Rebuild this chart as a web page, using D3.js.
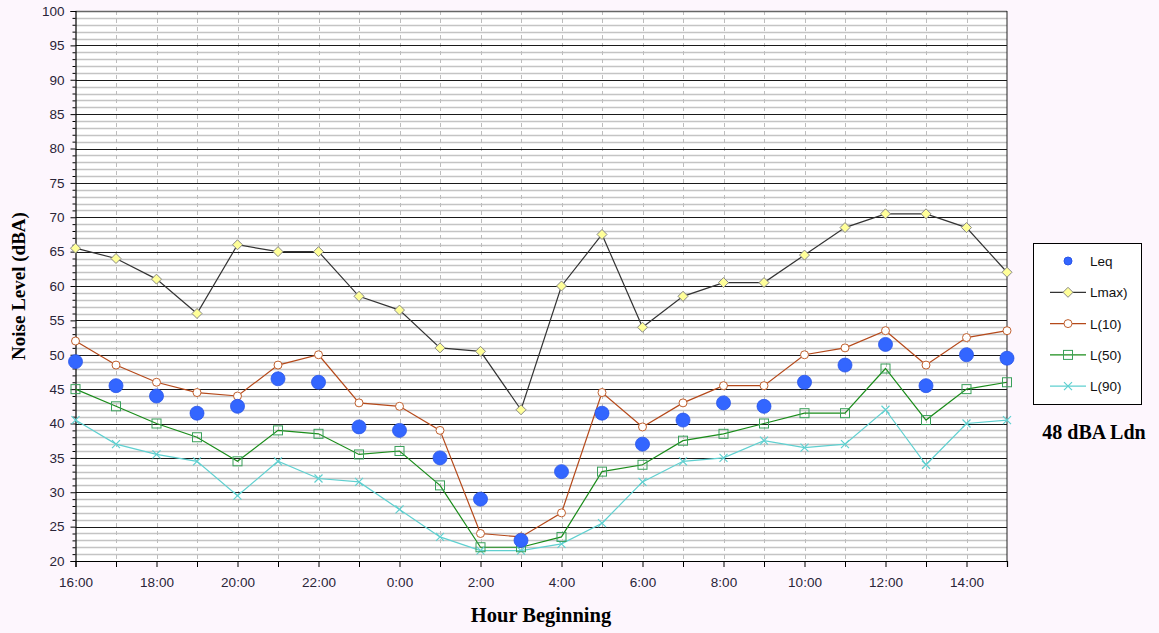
<!DOCTYPE html>
<html><head><meta charset="utf-8">
<script src="https://cdn.jsdelivr.net/npm/d3@7"></script>
<style>
body{margin:0;background:#fdf6fd;}
svg{display:block;}
</style></head>
<body>
<svg id="c" width="1159" height="633"></svg>
<script>
const hours = ["16:00","17:00","18:00","19:00","20:00","21:00","22:00","23:00","0:00","1:00","2:00","3:00","4:00","5:00","6:00","7:00","8:00","9:00","10:00","11:00","12:00","13:00","14:00","15:00"];
const leq  = [49,45.5,44,41.5,42.5,46.5,46,39.5,39,35,29,23,33,41.5,37,40.5,43,42.5,46,48.5,51.5,45.5,50,49.5];
const lmax = [65.5,64,61,56,66,65,65,58.5,56.5,51,50.5,42,60,67.5,54,58.5,60.5,60.5,64.5,68.5,70.5,70.5,68.5,62];
const l10  = [52,48.5,46,44.5,44,48.5,50,43,42.5,39,24,23.5,27,44.5,39.5,43,45.5,45.5,50,51,53.5,48.5,52.5,53.5];
const l50  = [45,42.5,40,38,34.5,39,38.5,35.5,36,31,22,22,23.5,33,34,37.5,38.5,40,41.5,41.5,48,40.5,45,46];
const l90  = [40.5,37,35.5,34.5,29.5,34.5,32,31.5,27.5,23.5,21.5,21.5,22.5,25.5,31.5,34.5,35,37.5,36.5,37,42,34,40,40.5];
const yTicks = [20,25,30,35,40,45,50,55,60,65,70,75,80,85,90,95,100];
const legendNames = ["Leq","Lmax)","L(10)","L(50)","L(90)"];
const noteText = "48 dBA Ldn";
const xTitle = "Hour Beginning";
const yTitle = "Noise Level (dBA)";

const svg = d3.select("#c");
const L=75.5, R=1007, T=11, B=561;
const x = d3.scalePoint().domain(hours).range([L,R]);
const y = d3.scaleLinear().domain([20,100]).range([B,T]);

svg.append("rect").attr("x",L).attr("y",T).attr("width",R-L).attr("height",B-T).attr("fill","#fff");

const minor = d3.range(21,100).filter(v=>v%5!==0);
svg.append("g").selectAll("line").data(minor).join("line")
  .attr("x1",L).attr("x2",R).attr("y1",d=>Math.round(y(d))+0.5).attr("y2",d=>Math.round(y(d))+0.5)
  .attr("stroke","#c4c4c4").attr("stroke-width",1.3);
svg.append("g").selectAll("line").data(hours.slice(1,-1)).join("line")
  .attr("x1",d=>Math.round(x(d))+0.5).attr("x2",d=>Math.round(x(d))+0.5).attr("y1",T).attr("y2",B)
  .attr("stroke","#bdbdbd").attr("stroke-dasharray","4,4");
svg.append("g").selectAll("line").data(yTicks.filter(v=>v>20&&v<100)).join("line")
  .attr("x1",L).attr("x2",R).attr("y1",d=>Math.round(y(d))+0.5).attr("y2",d=>Math.round(y(d))+0.5)
  .attr("stroke","#1a1a1a").attr("stroke-width",1);
svg.append("line").attr("x1",L).attr("x2",R).attr("y1",T+0.5).attr("y2",T+0.5).attr("stroke","#666").attr("stroke-width",1.5);
svg.append("line").attr("x1",R).attr("x2",R).attr("y1",T).attr("y2",B).attr("stroke","#222");

const yAxis = d3.axisLeft(y).tickValues(yTicks).tickSize(5).tickPadding(6).tickFormat(d3.format("d"));
const gy = svg.append("g").attr("transform",`translate(${L},0)`).call(yAxis);
const gyMinor = svg.append("g").attr("transform",`translate(${L},0)`).call(d3.axisLeft(y).tickValues(minor).tickSize(3).tickFormat(""));
gyMinor.select(".domain").remove();
const xAxis = d3.axisBottom(x).tickSize(6).tickPadding(10).tickFormat((d,i)=>i%2===0?d:"");
const gx = svg.append("g").attr("transform",`translate(0,${B})`).call(xAxis);
[gy,gx,gyMinor].forEach(g=>{
  g.selectAll("text").attr("font-family","Arial, Liberation Sans, sans-serif").attr("font-size",13.5).attr("fill","#2a2438");
  g.selectAll("line").attr("stroke","#000");
  g.select(".domain").attr("stroke","#000").attr("stroke-width",1.2);
});

const line = d3.line().x((d,i)=>x(hours[i])).y(d=>y(d));
const series = [
  {data:lmax, color:"#333", mark:"diamond", mstroke:"#888", mfill:"#ffff99"},
  {data:l10, color:"#b5491a", mark:"circle", mstroke:"#c0602e", mfill:"none"},
  {data:l50, color:"#1a8c1a", mark:"square", mstroke:"#3aa05a", mfill:"none"},
  {data:l90, color:"#5fd0d0", mark:"x", mstroke:"#5fd0d0", mfill:"none"}
];
function drawMark(g, type, cx, cy, s){
  if(type==="diamond") g.append("path").attr("d",`M${cx},${cy-5}L${cx+5},${cy}L${cx},${cy+5}L${cx-5},${cy}Z`).attr("fill",s.mfill).attr("stroke",s.mstroke);
  else if(type==="circle") g.append("circle").attr("cx",cx).attr("cy",cy).attr("r",4).attr("fill","#fff").attr("stroke",s.mstroke);
  else if(type==="square") g.append("rect").attr("x",cx-4.5).attr("y",cy-4.5).attr("width",9).attr("height",9).attr("fill","none").attr("stroke",s.mstroke);
  else if(type==="x") g.append("path").attr("d",`M${cx-4},${cy-4}L${cx+4},${cy+4}M${cx-4},${cy+4}L${cx+4},${cy-4}`).attr("stroke",s.mstroke).attr("stroke-width",1.2);
}
series.slice().reverse().forEach(s=>{
  svg.append("path").datum(s.data).attr("d",line).attr("fill","none").attr("stroke",s.color).attr("stroke-width",1.2);
});
series.slice().reverse().forEach(s=>{
  const g = svg.append("g");
  s.data.forEach((v,i)=>drawMark(g,s.mark,x(hours[i]),y(v),s));
});
svg.append("g").selectAll("circle").data(leq).join("circle")
  .attr("cx",(d,i)=>x(hours[i])).attr("cy",d=>y(d)).attr("r",7)
  .attr("fill","#3366ff").attr("stroke","#2a55e8").attr("stroke-width",0.8);

svg.append("text").attr("x",541).attr("y",622).attr("text-anchor","middle")
  .attr("font-family","Liberation Serif, Times New Roman, serif").attr("font-weight","bold").attr("font-size",20.5).text(xTitle);
svg.append("text").attr("transform",`translate(25,286) rotate(-90)`).attr("text-anchor","middle")
  .attr("font-family","Liberation Serif, Times New Roman, serif").attr("font-weight","bold").attr("font-size",19).text(yTitle);

const lg = svg.append("g");
lg.append("rect").attr("x",1033.5).attr("y",243.5).attr("width",108).attr("height",161).attr("fill","#fff").attr("stroke","#000");
const legendStyles = [{mark:"dot"}].concat(series);
legendNames.forEach((name,i)=>{
  const cy = 261 + i*31.3;
  const s = legendStyles[i];
  if(s.mark==="dot"){
    lg.append("circle").attr("cx",1068).attr("cy",cy).attr("r",4).attr("fill","#3366ff").attr("stroke","#2a55e8");
  } else {
    lg.append("line").attr("x1",1050).attr("x2",1086).attr("y1",cy).attr("y2",cy).attr("stroke",s.color).attr("stroke-width",1.2);
    drawMark(lg,s.mark,1068,cy,s);
  }
  lg.append("text").attr("x",1090).attr("y",cy+5).attr("font-family","Arial, Liberation Sans, sans-serif").attr("font-size",13.5).attr("fill","#111").text(name);
});
svg.append("text").attr("x",1094).attr("y",439).attr("text-anchor","middle")
  .attr("font-family","Liberation Serif, Times New Roman, serif").attr("font-weight","bold").attr("font-size",20).text(noteText);
</script>
</body></html>
